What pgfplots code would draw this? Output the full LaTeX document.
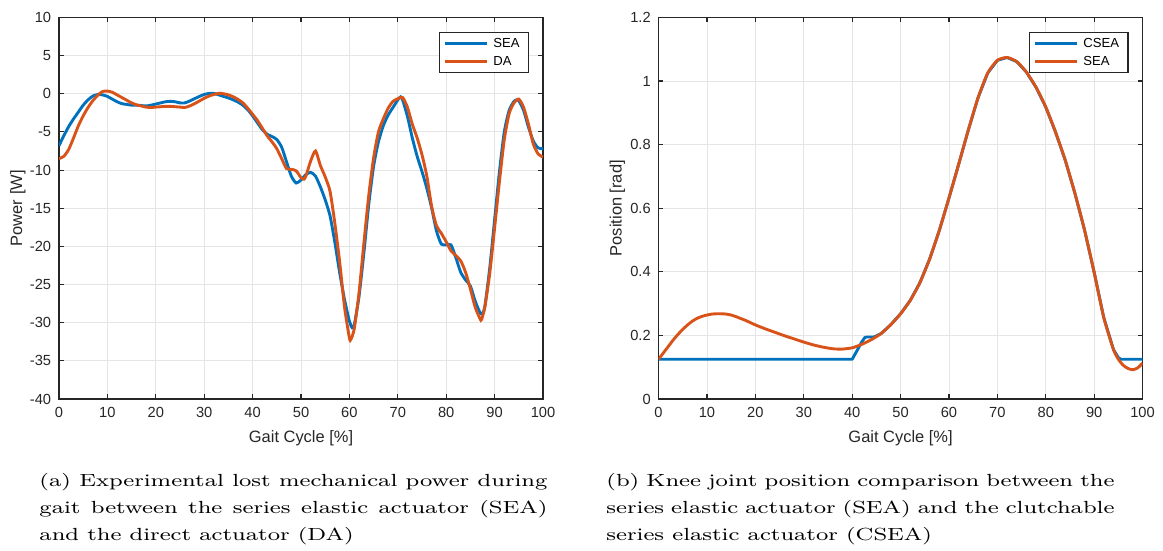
\documentclass[border=0pt]{standalone}
\usepackage{fontspec}
\usepackage{pgfplots}
\pgfplotsset{compat=1.18}
\newfontfamily\plotfont{Liberation Sans}
\newfontfamily\capfont{Latin Modern Roman}[FakeStretch=1.32]

\definecolor{mblue}{rgb}{0,0.447,0.741}
\definecolor{morange}{rgb}{0.851,0.325,0.098}
\definecolor{axgray}{gray}{0.15}

% power curves (left panel)
\pgfplotstableread{
x y
0 -6.8
1 -5.5
2 -4.3
3 -3.3
4 -2.4
5 -1.5
6 -0.8
7 -0.3
8 -0.1
9 -0.15
10 -0.35
11 -0.7
12 -1.05
13 -1.3
14 -1.4
15 -1.5
16 -1.5
17 -1.55
18 -1.6
19 -1.5
20 -1.35
21 -1.2
22 -1.05
23 -1.0
24 -1.05
25 -1.2
26 -1.2
27 -0.95
28 -0.65
29 -0.35
30 -0.1
31 0.05
32 0.05
33 -0.15
34 -0.35
35 -0.55
36 -0.8
37 -1.1
38 -1.5
39 -2.1
40 -2.9
41 -3.8
42 -4.7
43 -5.3
44 -5.6
45 -6.0
46 -7.0
47 -8.9
48 -10.8
49 -11.7
50 -11.3
51 -10.6
52 -10.3
53 -10.8
54 -12.2
55 -13.9
56 -16.0
57 -19.5
58 -23.5
59 -27.0
60 -29.8
60.6 -30.7
61 -30.3
62 -26.5
63 -20.8
64 -14.5
65 -9.5
66 -6.3
67 -4.2
68 -2.8
69 -1.8
70 -0.8
70.6 -0.4
71 -0.8
72 -3.0
73 -5.8
74 -8.2
75 -10.2
76 -12.4
77 -15.0
78 -18.0
79 -19.7
80 -19.8
81 -19.8
82 -21.5
83 -23.4
84 -24.4
85 -25.2
86 -27.2
87 -28.7
87.5 -28.8
88 -27.8
89 -22.8
90 -16.5
91 -10.2
92 -5.0
93 -2.2
94 -1.0
94.6 -0.8
95 -0.9
96 -2.2
97 -4.4
98 -6.2
99 -7.1
100 -7.2
}\seapower

\pgfplotstableread{
x y
0 -8.5
1 -8.2
2 -7.3
3 -5.8
4 -4.2
5 -2.9
6 -1.8
7 -0.9
8 -0.2
9 0.3
10 0.35
11 0.2
12 -0.15
13 -0.5
14 -0.85
15 -1.2
16 -1.45
17 -1.6
18 -1.75
19 -1.8
20 -1.75
21 -1.7
22 -1.65
23 -1.65
24 -1.7
25 -1.75
26 -1.8
27 -1.6
28 -1.3
29 -0.95
30 -0.6
31 -0.3
32 -0.1
33 0.05
34 0.0
35 -0.15
36 -0.4
37 -0.75
38 -1.2
39 -1.9
40 -2.7
41 -3.5
42 -4.5
43 -5.5
44 -6.3
45 -7.2
46 -8.5
47 -9.8
48 -9.9
49 -10.1
50 -11.0
50.6 -11.2
51 -10.8
52 -8.8
53 -7.5
54 -9.4
55 -10.9
56 -12.8
57 -17.0
58 -22.1
59 -28.0
60 -32.0
60.3 -32.2
61 -30.8
62 -26.0
63 -19.5
64 -13.3
65 -8.4
66 -5.0
67 -3.3
68 -1.9
69 -1.0
70 -0.65
71 -0.5
72 -1.8
73 -4.0
74 -5.8
75 -8.0
76 -10.8
77 -14.8
78 -17.3
79 -18.3
80 -19.4
81 -20.6
82 -21.2
83 -21.9
84 -23.4
85 -25.6
86 -28.0
87 -29.5
87.3 -29.6
88 -27.9
89 -23.5
90 -17.6
91 -11.5
92 -6.0
93 -2.6
94 -1.2
95 -0.7
96 -1.8
97 -4.0
98 -6.6
99 -7.9
100 -8.3
}\dapower

% knee position (right panel)
\pgfplotstableread{
x y
0 0.125
40 0.125
41 0.152
42 0.18
42.6 0.193
43 0.195
44.5 0.195
46 0.206
48 0.234
50 0.268
52 0.31
54 0.366
56 0.44
58 0.53
60 0.632
62 0.738
64 0.846
66 0.947
68 1.025
70 1.065
72 1.074
74 1.061
76 1.028
78 0.98
80 0.918
82 0.84
84 0.752
86 0.648
88 0.532
90 0.398
92 0.255
94 0.155
95 0.13
95.5 0.125
100 0.125
}\cseapos

\pgfplotstableread{
x y
0 0.125
1 0.145
2 0.165
3 0.185
4 0.203
5 0.219
6 0.233
7 0.245
8 0.254
9 0.26
10 0.264
11 0.267
12 0.268
13 0.268
14 0.267
15 0.264
16 0.259
17 0.253
18 0.247
19 0.24
20 0.233
22 0.221
24 0.21
26 0.199
28 0.189
30 0.179
32 0.17
34 0.163
36 0.158
37 0.157
38 0.157
40 0.161
42 0.172
44 0.187
46 0.206
48 0.234
50 0.268
52 0.31
54 0.366
56 0.44
58 0.53
60 0.632
62 0.738
64 0.846
66 0.947
68 1.025
70 1.065
72 1.074
74 1.061
76 1.028
78 0.98
80 0.918
82 0.84
84 0.752
86 0.648
88 0.532
90 0.398
92 0.255
94 0.155
95 0.125
96 0.106
97 0.096
98 0.092
99 0.098
100 0.113
}\seapos

\pgfplotsset{
  matstyle/.style={
    scale only axis, width=217.8pt, height=171.7pt,
    xmin=0, xmax=100, xtick={0,10,...,100},
    grid=major, major grid style={black!10, line width=0.4pt},
    axis line style={axgray, line width=0.5pt},
    tick style={axgray, line width=0.5pt},
    tick align=inside, major tick length=2.2pt,
    ticklabel style={font=\fontsize{6.6}{7}\plotfont, text=axgray},
    /pgf/number format/assume math mode=true,
    label style={font=\fontsize{7.4}{8}\plotfont, text=axgray},
    xlabel style={at={(axis description cs:0.5,-0.104)}, anchor=center},
    ylabel style={at={(axis description cs:-0.085,0.5)}, anchor=center, rotate=0},
    legend style={at={(0.971,0.961)}, anchor=north east, draw=axgray, line width=0.5pt,
      font=\fontsize{5.9}{6.5}\plotfont, text=black, inner xsep=2pt, inner ysep=1.6pt,
      row sep=1.6pt, nodes={inner ysep=0.5pt, text height=4.3pt, text depth=1.2pt}},
    legend cell align=left,
    legend image code/.code={\draw[#1] (0pt,0pt) -- (19pt,0pt);},
    every axis plot/.append style={line width=1.3pt},
  }
}

\begin{document}
\begin{tikzpicture}
\path[use as bounding box] (-26.55pt,-68.4pt) rectangle (496.8pt,179.55pt);

\begin{axis}[matstyle, ymin=-40, ymax=10, ytick={-40,-35,...,10},
  xlabel={Gait Cycle [\%]}, ylabel={Power [W]}]
  \addplot[mblue, smooth, tension=0.4] table {\seapower};
  \addplot[morange, smooth, tension=0.4] table {\dapower};
  \legend{SEA, DA}
\end{axis}

\begin{axis}[matstyle, at={(269.8pt,0pt)}, ymin=0, ymax=1.2, ytick={0,0.2,...,1.2},
  yticklabel style={/pgf/number format/fixed, /pgf/number format/precision=1},
  xlabel={Gait Cycle [\%]}, ylabel={Position [rad]}]
  \addplot[mblue, line join=round] table {\cseapos};
  \addplot[morange, smooth, tension=0.4] table {\seapos};
  \legend{CSEA, SEA}
\end{axis}

\begin{scope}[every node/.style={anchor=base west, inner sep=0pt, font=\fontsize{7.9}{12}\capfont}]
  \node at (-9pt,-39.6pt) {\makebox[228.6pt][s]{(a) Experimental lost mechanical power during}};
  \node at (-9pt,-51.75pt) {\makebox[228.6pt][s]{gait between the series elastic actuator (SEA)}};
  \node at (-9pt,-63.9pt) {and the direct actuator (DA)};
  \node at (246.15pt,-39.6pt) {\makebox[228.6pt][s]{(b) Knee joint position comparison between the}};
  \node at (246.15pt,-51.75pt) {\makebox[228.6pt][s]{series elastic actuator (SEA) and the clutchable}};
  \node at (246.15pt,-63.9pt) {series elastic actuator (CSEA)};
\end{scope}
\end{tikzpicture}
\end{document}
